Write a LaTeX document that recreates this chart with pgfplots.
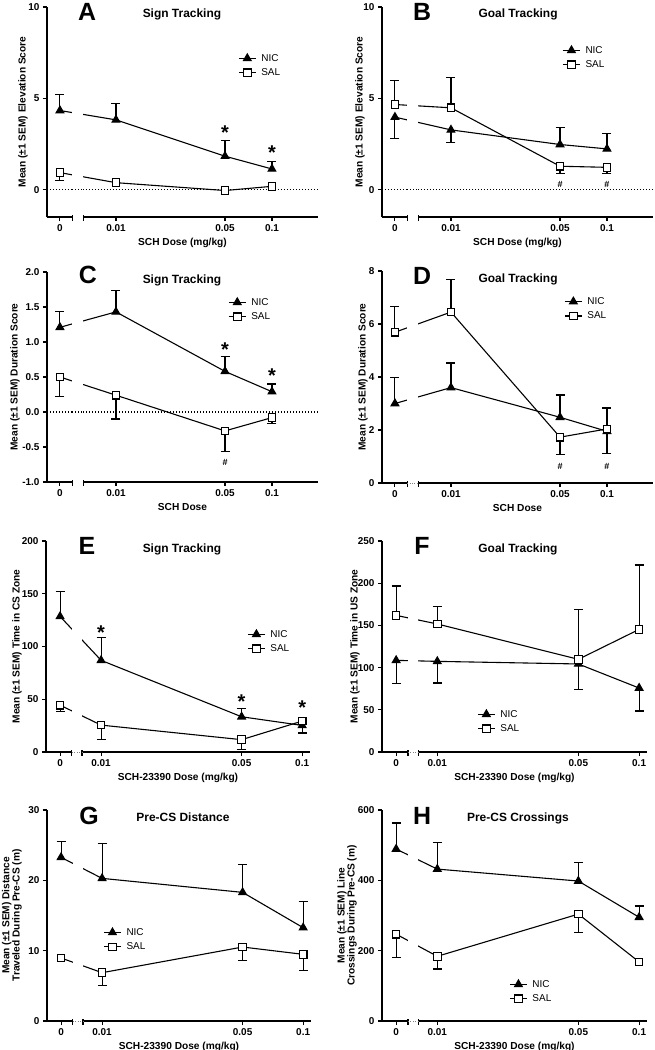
\documentclass[border=0pt]{standalone}
\usepackage{fontspec}
\setmainfont{Liberation Sans}
\usepackage{pgfplots}
\pgfplotsset{compat=1.18}
\newcommand{\fsz}[1]{\fontsize{#1}{#1}\selectfont}

\pgfplotsset{
  scale only axis, axis lines=left,
  axis line style={-, line width=1.1pt},
  clip=false, tick align=outside, major tick length=4bp,
  tick style={black, line width=1.1pt},
  minor xtick={}, minor ytick={},
  tick label style={font=\bfseries\fsz{10}},
  label style={font=\bfseries\fsz{10.2}},
  ylabel style={anchor=center, align=center},
  /pgf/number format/assume math mode=true,
  legend style={draw=none, fill=none, inner sep=0pt, font=\fsz{10}, anchor=north west, row sep=2pt, column sep=3bp},
  legend cell align=left,
}
\pgfplotsset{
  rowab/.style={width=271bp, height=210bp, xmin=0.003614, xmax=0.19724,
    xtick={0.004375,0.01,0.05,0.1}, xticklabels={0,0.01,0.05,0.1}},
  rowef/.style={width=264bp, height=211bp, xmin=0.005321, xmax=0.1094,
    xtick={0.006252,0.01,0.05,0.1}, xticklabels={0,0.01,0.05,0.1}},
  nicser/.style={black, line width=1.1pt, mark=triangle*, mark size=4.4bp, mark options={solid, fill=black}},
  salser/.style={black, line width=1.1pt, mark=square*, mark size=3.8bp, mark options={solid, fill=white}},
  ebar/.style={forget plot, draw=none, mark=none, error bars/y explicit,
    error bars/error bar style={draw=black, line width=1.1pt},
    error bars/error mark options={rotate=90, draw=black, mark size=4.5bp, line width=1.1pt}},
}
\tikzset{
  zline/.style={black, line width=1.1bp, dash pattern=on 1.1bp off 1.9bp},
  ttl/.style={font=\bfseries\fsz{12}, anchor=base},
  lett/.style={font=\bfseries\fsz{25}, anchor=base},
  astk/.style={font=\bfseries\fsz{20}, yshift=-4bp},
  hsh/.style={font=\bfseries\fsz{9}},
}
% axis break: white gap, end ticks
\newcommand{\axgap}[4]{%
  \fill[white] ([yshift=-6bp]axis cs:#1,#3) rectangle ([yshift=1bp]axis cs:#2,#4);
  \draw[black, line width=1.1pt] ([yshift=2bp]axis cs:#1,#3) -- ([yshift=-3.5bp]axis cs:#1,#3);
  \draw[black, line width=1.1pt] ([yshift=2bp]axis cs:#2,#3) -- ([yshift=-3.5bp]axis cs:#2,#3);
}
\newcommand{\gapab}[2]{\axgap{0.005248}{0.006166}{#1}{#2}}
\newcommand{\gapef}[2]{\axgap{0.007161}{0.008035}{#1}{#2}%
  \draw[gray, line width=0.8bp, dash pattern=on 0.8bp off 1.6bp] (axis cs:0.007161,#1) -- (axis cs:0.008035,#1);}

\begin{document}
\begin{tikzpicture}
\useasboundingbox (0,0) rectangle (655bp,-1050bp);

% ---------------- A
\begin{semilogxaxis}[rowab, anchor=south west, at={(47bp,-217bp)}, ymin=-1.5, ymax=10, ytick={0,5,10},
  xlabel={SCH Dose (mg/kg)}, ylabel={Mean (±1 SEM) Elevation Score},
  ylabel style={at={(axis description cs:-0.089,0.5)}},
  legend style={at={(0.705,0.786)}}]
\draw[zline] (axis cs:0.003614,0) -- (axis cs:0.19724,0);
\addplot[ebar, error bars/y dir=plus] coordinates {(0.004375,4.33) +- (0,0.86) (0.01,3.82) +- (0,0.88) (0.05,1.83) +- (0,0.86) (0.1,1.13) +- (0,0.42)};
\addplot[ebar, error bars/y dir=minus] coordinates {(0.004375,0.93) +- (0,0.44)};
\addplot[nicser] coordinates {(0.004375,4.33) (0.01,3.82) (0.05,1.83) (0.1,1.13)};
\addplot[salser] coordinates {(0.004375,0.93) (0.01,0.38) (0.05,-0.05) (0.1,0.18)};
\legend{NIC,SAL}
\gapab{-1.5}{10}
\draw[zline] (axis cs:0.005248,0) -- (axis cs:0.006166,0);
\node[ttl] at (axis description cs:0.498,0.951) {Sign Tracking};
\node[lett] at (axis description cs:0.148,0.935) {A};
\node[astk] at (axis cs:0.05,3.36) {*};
\node[astk] at (axis cs:0.1,2.27) {*};
\end{semilogxaxis}

% ---------------- B
\begin{semilogxaxis}[rowab, anchor=south west, at={(382bp,-217bp)}, ymin=-1.5, ymax=10, ytick={0,5,10},
  xlabel={SCH Dose (mg/kg)}, ylabel={Mean (±1 SEM) Elevation Score},
  ylabel style={at={(axis description cs:-0.081,0.5)}},
  legend style={at={(0.665,0.824)}}]
\draw[zline] (axis cs:0.003614,0) -- (axis cs:0.19724,0);
\addplot[ebar, error bars/y dir=plus] coordinates {(0.05,2.47) +- (0,0.93) (0.1,2.23) +- (0,0.82) (0.004375,4.66) +- (0,1.30) (0.01,4.48) +- (0,1.66)};
\addplot[ebar, error bars/y dir=minus] coordinates {(0.004375,3.97) +- (0,1.19) (0.01,3.27) +- (0,0.71) (0.05,1.28) +- (0,0.42) (0.1,1.22) +- (0,0.36)};
\addplot[nicser] coordinates {(0.004375,3.97) (0.01,3.27) (0.05,2.47) (0.1,2.23)};
\addplot[salser] coordinates {(0.004375,4.66) (0.01,4.48) (0.05,1.28) (0.1,1.22)};
\legend{NIC,SAL}
\gapab{-1.5}{10}
\draw[zline] (axis cs:0.005248,0) -- (axis cs:0.006166,0);
\node[ttl] at (axis description cs:0.502,0.951) {Goal Tracking};
\node[lett] at (axis description cs:0.148,0.935) {B};
\node[hsh] at (axis cs:0.05,0.26) {\#};
\node[hsh] at (axis cs:0.1,0.26) {\#};
\end{semilogxaxis}

% ---------------- C
\begin{semilogxaxis}[rowab, anchor=south west, at={(47bp,-482bp)}, ymin=-1, ymax=2, ytick={-1,-0.5,...,2},
  yticklabel style={/pgf/number format/.cd, fixed, fixed zerofill, precision=1},
  xlabel={SCH Dose}, ylabel={Mean (±1 SEM) Duration Score},
  ylabel style={at={(axis description cs:-0.118,0.5)}},
  legend style={at={(0.668,0.886)}}]
\draw[zline] (axis cs:0.003614,0) -- (axis cs:0.19724,0);
\addplot[ebar, error bars/y dir=plus] coordinates {(0.004375,1.21) +- (0,0.22) (0.01,1.43) +- (0,0.31) (0.05,0.58) +- (0,0.21) (0.1,0.29) +- (0,0.11)};
\addplot[ebar, error bars/y dir=minus] coordinates {(0.004375,0.50) +- (0,0.28) (0.01,0.24) +- (0,0.34) (0.05,-0.27) +- (0,0.29) (0.1,-0.08) +- (0,0.08)};
\addplot[nicser] coordinates {(0.004375,1.21) (0.01,1.43) (0.05,0.58) (0.1,0.29)};
\addplot[salser] coordinates {(0.004375,0.50) (0.01,0.24) (0.05,-0.27) (0.1,-0.08)};
\legend{NIC,SAL}
\gapab{-1}{2}
\draw[zline] (axis cs:0.005248,0) -- (axis cs:0.006166,0);
\node[ttl] at (axis description cs:0.498,0.946) {Sign Tracking};
\node[lett] at (axis description cs:0.151,0.943) {C};
\node[astk] at (axis cs:0.05,0.954) {*};
\node[astk] at (axis cs:0.1,0.574) {*};
\node[hsh] at (axis cs:0.05,-0.717) {\#};
\end{semilogxaxis}

% ---------------- D
\begin{semilogxaxis}[rowab, anchor=south west, at={(382bp,-483bp)}, height=212bp, ymin=0, ymax=8, ytick={0,2,...,8},
  xlabel={SCH Dose}, ylabel={Mean (±1 SEM) Duration Score},
  ylabel style={at={(axis description cs:-0.070,0.5)}},
  legend style={at={(0.672,0.886)}}]
\addplot[ebar, error bars/y dir=plus] coordinates {(0.004375,3.00) +- (0,0.98) (0.01,3.60) +- (0,0.93) (0.05,2.48) +- (0,0.84) (0.004375,5.69) +- (0,0.97) (0.01,6.45) +- (0,1.23) (0.1,2.04) +- (0,0.79)};
\addplot[ebar, error bars/y dir=minus] coordinates {(0.1,1.95) +- (0,0.84) (0.05,1.73) +- (0,0.65)};
\addplot[nicser] coordinates {(0.004375,3.00) (0.01,3.60) (0.05,2.48) (0.1,1.95)};
\addplot[salser] coordinates {(0.004375,5.69) (0.01,6.45) (0.05,1.73) (0.1,2.04)};
\legend{NIC,SAL}
\axgap{0.005248}{0.006166}{0}{8}
\draw[gray, line width=0.8bp, dash pattern=on 0.8bp off 1.6bp] (axis cs:0.005248,0) -- (axis cs:0.006166,0);
\node[ttl] at (axis description cs:0.502,0.946) {Goal Tracking};
\node[lett] at (axis description cs:0.148,0.938) {D};
\node[hsh] at (axis cs:0.05,0.64) {\#};
\node[hsh] at (axis cs:0.1,0.64) {\#};
\end{semilogxaxis}

% ---------------- E
\begin{semilogxaxis}[rowef, anchor=south west, at={(46bp,-752bp)}, ymin=0, ymax=200, ytick={0,50,...,200},
  xlabel={SCH-23390 Dose (mg/kg)}, ylabel={Mean (±1 SEM) Time in CS Zone},
  ylabel style={at={(axis description cs:-0.110,0.5)}},
  legend style={at={(0.762,0.588)}}]
\addplot[ebar, error bars/y dir=plus] coordinates {(0.006252,128.5) +- (0,23.3) (0.01,86.9) +- (0,21.4) (0.05,33.4) +- (0,7.5)};
\addplot[ebar, error bars/y dir=minus] coordinates {(0.1,25.2) +- (0,7.2) (0.006252,44.4) +- (0,6.3) (0.01,25.5) +- (0,13.5) (0.05,11.7) +- (0,9.2)};
\addplot[nicser] coordinates {(0.006252,128.5) (0.01,86.9) (0.05,33.4) (0.1,25.2)};
\addplot[salser] coordinates {(0.006252,44.4) (0.01,25.5) (0.05,11.7) (0.1,29.3)};
\legend{NIC,SAL}
\gapef{0}{200}
\node[ttl] at (axis description cs:0.515,0.946) {Sign Tracking};
\node[lett] at (axis description cs:0.155,0.934) {E};
\node[astk] at (axis cs:0.01,116.5) {*};
\node[astk] at (axis cs:0.05,52) {*};
\node[astk] at (axis cs:0.1,45.4) {*};
\end{semilogxaxis}

% ---------------- F
\begin{semilogxaxis}[rowef, anchor=south west, at={(382bp,-752bp)}, width=265bp, ymin=0, ymax=250, ytick={0,50,...,250},
  xlabel={SCH-23390 Dose (mg/kg)}, ylabel={Mean (±1 SEM) Time in US Zone},
  ylabel style={at={(axis description cs:-0.102,0.5)}},
  legend style={at={(0.359,0.209)}}]
\addplot[ebar, error bars/y dir=plus] coordinates {(0.006252,161.9) +- (0,34.8) (0.01,151.7) +- (0,20.5) (0.05,109.8) +- (0,58.8) (0.1,145.3) +- (0,76.3)};
\addplot[ebar, error bars/y dir=minus] coordinates {(0.006252,108.6) +- (0,27.2) (0.01,107.4) +- (0,25.6) (0.05,104.3) +- (0,30.4) (0.1,75.8) +- (0,27.2)};
\addplot[nicser] coordinates {(0.006252,108.6) (0.01,107.4) (0.05,104.3) (0.1,75.8)};
\addplot[salser] coordinates {(0.006252,161.9) (0.01,151.7) (0.05,109.8) (0.1,145.3)};
\legend{NIC,SAL}
\gapef{0}{250}
\node[ttl] at (axis description cs:0.513,0.946) {Goal Tracking};
\node[lett] at (axis description cs:0.151,0.934) {F};
\end{semilogxaxis}

% ---------------- G
\begin{semilogxaxis}[rowef, anchor=south west, at={(47bp,-1021bp)}, ymin=0, ymax=30, ytick={0,10,20,30},
  xlabel={SCH-23390 Dose (mg/kg)}, ylabel={Mean (±1 SEM) Distance\\Traveled During Pre-CS (m)},
  ylabel style={at={(axis description cs:-0.133,0.5)}},
  legend style={at={(0.213,0.450)}}]
\addplot[ebar, error bars/y dir=plus] coordinates {(0.006252,23.27) +- (0,2.23) (0.01,20.28) +- (0,4.92) (0.05,18.29) +- (0,4.01) (0.1,13.27) +- (0,3.73)};
\addplot[ebar, error bars/y dir=minus] coordinates {(0.01,6.87) +- (0,1.80) (0.05,10.52) +- (0,1.89) (0.1,9.48) +- (0,2.28)};
\addplot[nicser] coordinates {(0.006252,23.27) (0.01,20.28) (0.05,18.29) (0.1,13.27)};
\addplot[salser] coordinates {(0.006252,8.96) (0.01,6.87) (0.05,10.52) (0.1,9.48)};
\legend{NIC,SAL}
\gapef{0}{30}
\node[ttl] at (axis description cs:0.515,0.944) {Pre-CS Distance};
\node[lett] at (axis description cs:0.159,0.932) {G};
\end{semilogxaxis}

% ---------------- H
\begin{semilogxaxis}[rowef, anchor=south west, at={(382bp,-1021bp)}, width=265bp, ymin=0, ymax=600, ytick={0,200,400,600},
  xlabel={SCH-23390 Dose (mg/kg)}, ylabel={Mean (±1 SEM) Line\\Crossings During Pre-CS (m)},
  ylabel style={at={(axis description cs:-0.132,0.5)}},
  legend style={at={(0.480,0.204)}}]
\addplot[ebar, error bars/y dir=plus] coordinates {(0.006252,489) +- (0,74) (0.01,432) +- (0,75) (0.05,398) +- (0,53) (0.1,295) +- (0,32)};
\addplot[ebar, error bars/y dir=minus] coordinates {(0.006252,247) +- (0,67) (0.01,184) +- (0,36) (0.05,304) +- (0,53)};
\addplot[nicser] coordinates {(0.006252,489) (0.01,432) (0.05,398) (0.1,295)};
\addplot[salser] coordinates {(0.006252,247) (0.01,184) (0.05,304) (0.1,168)};
\legend{NIC,SAL}
\gapef{0}{600}
\node[ttl] at (axis description cs:0.513,0.944) {Pre-CS Crossings};
\node[lett] at (axis description cs:0.151,0.932) {H};
\end{semilogxaxis}
\end{tikzpicture}
\end{document}
